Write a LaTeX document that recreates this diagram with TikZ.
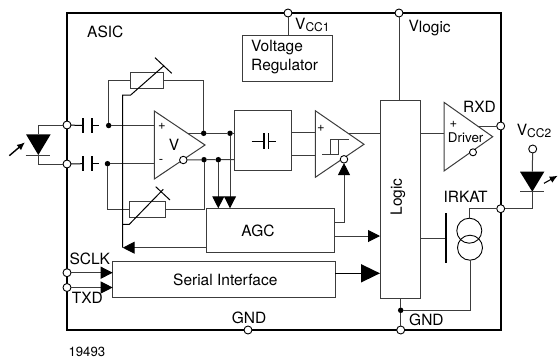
\documentclass[tikz,border=0pt]{standalone}
\usepackage{fontspec}
\setmainfont{TeX Gyre Heros}
\usepackage{tikz}
\usetikzlibrary{
  arrows.meta,
  calc
}
\definecolor{wirecolor}{RGB}{60, 60, 60}
\newcommand{\lowtxt}[1]{\raisebox{-1.5pt}{\fontsize{12}{12}\selectfont #1}}

\begin{document}
\begin{tikzpicture}[
    x=1pt, y=-1pt,
    font=\fontsize{15.5}{18.7}\selectfont,
    % Wires and boxes
    wire/.style={draw=wirecolor, line width=1pt},
    heavy/.style={draw=black, line width=1.6pt},
    plate/.style={draw=black, line width=1.6pt},
    block/.style={rectangle, draw=wirecolor, line width=1pt, inner sep=0pt, outer sep=0pt},
    % Pins and junctions
    pinc/.style={circle, draw=black, fill=white, line width=0.9pt, minimum size=8pt, inner sep=0pt, outer sep=0pt},
    dotc/.style={circle, fill=black, minimum size=5.5pt, inner sep=0pt, outer sep=0pt},
    srcc/.style={circle, draw=black, line width=0.9pt, minimum size=25pt, inner sep=0pt, outer sep=0pt},
    % Arrow tips
    tipsmall/.style={-{Triangle[length=12pt,width=12pt,color=black]}},
    tipbig/.style={-{Triangle[length=19pt,width=18pt,color=black]}},
    tiplight/.style={-{Latex[length=8pt,width=7pt]}},
    % Labels
    lbl/.style={inner sep=0pt, anchor=base west},
    sgn/.style={inner sep=0pt, font=\fontsize{13}{13}\selectfont}
]
    \useasboundingbox (0,0) rectangle (558,360);

    % --- ASIC FRAME ---
    \draw[heavy, line width=1.9pt] (67,13) rectangle (501,330);
    \node[lbl] (asic) at (87,37.5) {ASIC};

    % --- PINS ---
    \node[pinc] (pina) at (67,125) {};
    \node[pinc] (pinb) at (67,164) {};
    \node[pinc] (sclk) at (67,272.7) {};
    \node[pinc] (txd) at (67,287.5) {};
    \node[pinc] (gndl) at (248,330) {};
    \node[pinc] (gndr) at (400.7,330) {};
    \node[pinc] (vccone) at (288,13) {};
    \node[pinc] (vlogic) at (399,13) {};
    \node[pinc] (rxd) at (500.7,126) {};
    \node[pinc] (irkat) at (500.7,208.7) {};
    \node[pinc] (vcctwo) at (532.7,149) {};

    % --- BLOCKS ---
    \node[block, minimum width=89.6pt, minimum height=46pt] (reg) at (287.5,58) {};
    \node[block, minimum width=56.7pt, minimum height=60pt] (filt) at (263.3,140.7) {};
    \node[block, minimum width=128.3pt, minimum height=44.4pt] (agc) at (270.8,230.5) {};
    \node[block, minimum width=222.6pt, minimum height=35.6pt] (serial) at (224,279.5) {};
    \node[block, minimum width=40pt, minimum height=197.7pt] (logic) at (400,199.8) {};
    \node[block, minimum width=33.3pt, minimum height=16.4pt] (rup) at (147.3,80.5) {};
    \node[block, minimum width=35.3pt, minimum height=16.3pt] (rdn) at (147.6,209.2) {};

    \node[inner sep=0pt, align=left, anchor=west] (regtxt) at (251,57.3) {Voltage\\Regulator};
    \node[inner sep=0pt] (agctxt) at (258,230.7) {AGC};
    \node[inner sep=0pt] (sertxt) at (225.3,280) {Serial Interface};
    \node[inner sep=0pt, rotate=90] (logtxt) at (398,197) {Logic};

    % --- AMPLIFIERS ---
    \draw[wire, fill=white] (154.3,111) -- (205,145) -- (154.3,179) -- cycle;
    \draw[wire, fill=white] (315.3,110.7) -- (364,144.3) -- (315.3,177.3) -- cycle;
    \draw[wire, fill=white] (444,102.3) -- (492.7,136.7) -- (444,171) -- cycle;
    \node[sgn] (vplus) at (162,126) {+};
    \node[sgn] (vminus) at (161,161) {-};
    \node[inner sep=0pt] (vtxt) at (174,144.5) {V};
    \node[sgn] (cplus) at (321,128) {+};
    \node[sgn] (dplus) at (453.3,124) {+};
    \node[inner sep=0pt, font=\fontsize{13.4}{14}\selectfont] (drvtxt) at (465.7,137.7) {Driver};
    \node[pinc, minimum size=7.5pt] (vbub) at (183.3,160) {};
    \node[pinc, minimum size=7.5pt] (cbub) at (344,159.3) {};
    \node[pinc, minimum size=7pt] (dbub) at (473,152.3) {};

    % Hysteresis mark
    \draw[wire] (322.3,154) -- (338.3,154) -- (338.3,139) -- (349,139);
    \draw[wire] (330.7,154) -- (330.7,139) -- (338.3,139);

    % --- INPUT CAPACITORS ---
    \foreach \n/\y/\dx in {a/125.5/108.7, b/163.7/107.5} {
        \coordinate (capl\n) at (82.7,\y);
        \coordinate (capr\n) at (91.7,\y);
        \coordinate (stub\n) at (99.3,\y);
        \node[dotc] (dot\n) at (\dx,\y) {};
        \draw[wire, draw=black] (pin\n) -- (capl\n);
        \draw[wire, draw=black] (capr\n) -- (stub\n);
        \draw[plate] ($(capl\n)+(0,-7.3)$) -- ($(capl\n)+(0,7.3)$);
        \draw[plate] ($(capr\n)+(0,-7.3)$) -- ($(capr\n)+(0,7.3)$);
        \draw[wire] (dot\n) -- (154.3,\y);
    }

    % --- FILTER CAPACITOR ---
    \coordinate (fl) at (264,141.3);
    \coordinate (fr) at (268.3,141.3);
    \draw[black, line width=1.2pt] (251.7,141.3) -- (fl) (fr) -- (276,141.3);
    \draw[plate] ($(fl)+(0,-8)$) -- ($(fl)+(0,8)$);
    \draw[plate] ($(fr)+(0,-8)$) -- ($(fr)+(0,8)$);

    % --- AMPLIFIER OUTPUTS ---
    \node[dotc] (dotc) at (203.7,133.3) {};
    \node[dotc] (dotd) at (230,133.3) {};
    \node[dotc] (dote) at (204,159.7) {};
    \node[dotc] (dotf) at (218.3,159.7) {};
    \draw[wire] (187.5,133.3) -- (dotc) -- (dotd) -- (dotd -| filt.west);
    \draw[wire] (vbub) -- (dote) -- (dotf) -- (dotf -| filt.west);
    \draw[wire, tipsmall] (dotf) -- (dotf |- agc.north);
    \draw[wire, tipsmall] (dotd) -- (dotd |- agc.north);

    % --- FEEDBACK RESISTORS ---
    \draw[wire] (dota) |- (rup.west);
    \draw[wire] (rup.east) -| (dotc);
    \draw[wire] (dotb) |- (rdn.west);
    \draw[wire] (rdn.east) -| (dote);

    % Gain control line with trim marks
    \coordinate (ctrl) at (122.7,247.7);
    \draw[wire, draw=black] (164,65.7) -- (130.7,95) -- (122.7,95) -- (ctrl);
    \draw[wire, draw=black] (163.3,189.3) -- (129.3,224.3) -- (122.7,224.3);
    \draw[wire, draw=black] (155,57.7) -- (171.7,73.3);
    \draw[wire, draw=black] (155.7,186.7) -- (170,200);
    \draw[wire, tipsmall] (agc.west |- ctrl) -- (ctrl);

    % --- COMPARATOR AND LOGIC ---
    \draw[wire] (filt.east |- 0,132.7) -- (315.3,132.7);
    \draw[wire] (filt.east |- 0,155.7) -- (315.3,155.7);
    \draw[wire] (348,133.3) -- (logic.west |- 0,133.3);
    \draw[wire, tipsmall] (agc.east |- 0,222.3) -| (cbub.south);
    \draw[wire, tipsmall] (agc.east |- 0,236) -- (logic.west |- 0,236);
    \draw[heavy, tipbig] (serial.east |- 0,273.3) -- (logic.west |- 0,273.3);
    \draw[wire, tipsmall] (sclk) -- (serial.west |- sclk);
    \draw[wire, tipsmall] (txd) -- (serial.west |- txd);

    % --- SUPPLY AND OUTPUT ---
    \draw[wire] (vccone) -- (vccone |- reg.north);
    \draw[wire] (vlogic) -- (vlogic |- logic.north);
    \draw[wire] (logic.east |- 0,133.3) -- (444,133.3);
    \draw[wire] (477.5,126) -- (rxd);

    % --- IRKAT SOURCE ---
    \node[srcc] (srca) at (469.3,230.7) {};
    \node[srcc] (srcb) at (470,247.7) {};
    \coordinate (gate) at (446,238.7);
    \draw[wire] (logic.east |- gate) -- (gate);
    \draw[black, line width=1.7pt] (446,213.3) -- (446,262.7);
    \node[dotc] (dotg) at (400.7,310.3) {};
    \draw[wire] (srca.north) |- (irkat);
    \draw[wire] (srcb.south) |- (dotg);
    \draw[wire] (logic.south -| dotg) -- (dotg) -- (gndr);

    % --- DIODES ---
    \coordinate (pdbar) at (38.3,155);
    \fill[black] (26,134.3) -- (50.7,134.3) -- (pdbar) -- cycle;
    \draw[wire] (25.7,155) -- (50.3,155);
    \draw[wire] (pina) -| (38.3,134.3);
    \draw[wire] (pdbar) |- (pinb);
    \draw[black, line width=1.4pt, tiplight] (9.3,155.7) -- (25,142.3);

    \coordinate (ledbar) at (532.3,191.7);
    \fill[black] (520,171.7) -- (544.3,171.7) -- (ledbar) -- cycle;
    \draw[wire] (520,191.7) -- (544.3,191.7);
    \draw[wire] (vcctwo) -- (532.3,171.7);
    \draw[wire] (ledbar) |- (irkat);
    \draw[black, line width=1.1pt, tiplight] (544,183.3) -- (557.7,175.7);

    % --- LABELS ---
    \node[lbl] (lvccone) at (295,29.5) {V\lowtxt{CC1}};
    \node[lbl] (lvlog) at (408.3,31) {V\raisebox{-1pt}{logic}};
    \node[lbl] (lrxd) at (463,112) {RXD};
    \node[lbl] (lvcctwo) at (516.7,135.5) {V\lowtxt{CC2}};
    \node[lbl] (lirk) at (443.3,202) {IRKAT};
    \node[lbl] (lsclk) at (69.3,264.5) {SCLK};
    \node[lbl] (ltxd) at (71.7,303.7) {TXD};
    \node[lbl] (lgndl) at (231.7,323.7) {GND};
    \node[lbl] (lgndr) at (409,325.5) {GND};
    \node[lbl, font=\fontsize{13.2}{14}\selectfont] (lnum) at (68.3,356.3) {19493};
\end{tikzpicture}
\end{document}
